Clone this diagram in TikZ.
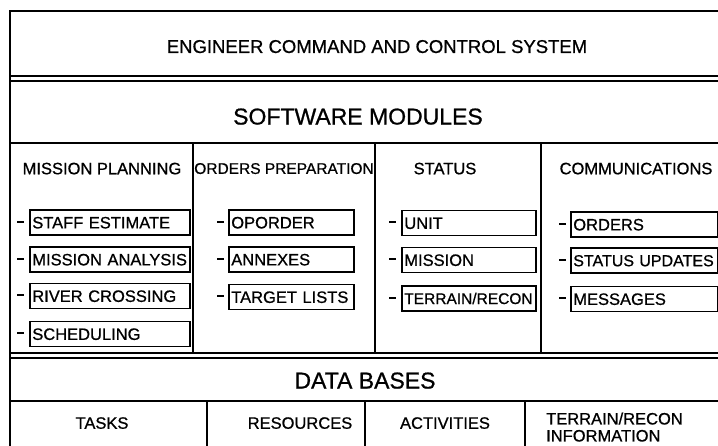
\documentclass[tikz,border=0pt]{standalone}
\usepackage{fontspec}
\setmainfont{Liberation Sans}[FakeBold=0.8]
\newcommand{\fs}[1]{\fontsize{#1}{#1}\selectfont}
\begin{document}
\begin{tikzpicture}[x=1pt,y=-1pt,
  rule/.style={line width=1.8pt},
  dbl/.style={line width=1.4pt},
  lbl/.style={inner sep=0pt, text depth=0pt, font=\fs{16.5}},
  dashmark/.style={fill=black, inner sep=0pt, minimum width=6.5pt, minimum height=2pt},
  item/.style={draw, line width=1.6pt, anchor=west, minimum height=25pt,
    inner xsep=2.5pt, inner ysep=0pt, text depth=0pt, text height=11.8pt,
    align=left, font=\fs{16.5}},
  mp/.style={item, text width=155pt},
  op/.style={item, text width=120pt},
  st/.style={item, text width=129pt},
  co/.style={item, text width=142pt}]
\useasboundingbox (0,0) rectangle (718,446);

% outer frame and section rules
\draw[rule] (10,446) -- (10,11) -- (718,11);
\draw[dbl] (10,76) -- (718,76);
\draw[dbl] (10,81) -- (718,81);
\draw[rule] (10,143) -- (718,143);
\draw[dbl] (10,353) -- (718,353);
\draw[dbl] (10,358) -- (718,358);
\draw[rule] (10,401) -- (718,401);

% module column dividers
\draw[rule] (193,143) -- (193,353);
\draw[rule] (375,143) -- (375,353);
\draw[rule] (541,143) -- (541,353);

% data base column dividers
\draw[rule] (207,401) -- (207,446);
\draw[rule] (365,401) -- (365,446);
\draw[rule] (525,401) -- (525,446);

% headings
\node[lbl, font=\fs{18.5}] (title) at (377,46.5) {ENGINEER COMMAND AND CONTROL SYSTEM};
\node[lbl, font=\fs{23}] (modules) at (358,116.5) {SOFTWARE MODULES};
\node[lbl] (hmp) at (102,168.5) {MISSION PLANNING};
\node[lbl, font=\fs{15.5}] (hop) at (284,168.5) {ORDERS PREPARATION};
\node[lbl] (hst) at (445,168.5) {STATUS};
\node[lbl] (hco) at (636,168.5) {COMMUNICATIONS};

% mission planning
\node[dashmark] (d1) at (20.5,222) {};
\node[mp] (m1) at (29,222.5) {STAFF ESTIMATE};
\node[dashmark] (d2) at (20.5,259) {};
\node[mp] (m2) at (29,259.5) {MISSION ANALYSIS};
\node[dashmark] (d3) at (20.5,295.5) {};
\node[mp] (m3) at (29,296) {RIVER CROSSING};
\node[dashmark] (d4) at (20.5,333.5) {};
\node[mp] (m4) at (29,334) {SCHEDULING};

% orders preparation
\node[dashmark] (d5) at (220.5,222) {};
\node[op] (o1) at (228,222.5) {OPORDER};
\node[dashmark] (d6) at (220.5,259) {};
\node[op] (o2) at (228,259.5) {ANNEXES};
\node[dashmark] (d7) at (220.5,296.5) {};
\node[op] (o3) at (228,297) {TARGET LISTS};

% status
\node[dashmark] (d8) at (392.5,222.5) {};
\node[st] (s1) at (401,223) {UNIT};
\node[dashmark] (d9) at (392.5,259.5) {};
\node[st] (s2) at (401,260) {MISSION};
\node[dashmark] (d10) at (392.5,298) {};
\node[st, font=\fs{15.5}, text height=11.1pt] (s3) at (401,298.5) {TERRAIN/RECON};

% communications
\node[dashmark] (d11) at (562.5,224) {};
\node[co] (c1) at (570,224.5) {ORDERS};
\node[dashmark] (d12) at (562.5,260) {};
\node[co, font=\fs{16}, text height=11.5pt] (c2) at (570,260.5) {STATUS UPDATES};
\node[dashmark] (d13) at (562.5,298.5) {};
\node[co] (c3) at (570,299) {MESSAGES};

% data bases
\node[lbl, font=\fs{23}] (db) at (365,380.5) {DATA BASES};
\node[lbl] (tasks) at (102,423) {TASKS};
\node[lbl] (res) at (300,423) {RESOURCES};
\node[lbl] (act) at (445,423) {ACTIVITIES};
\node[lbl, anchor=west, align=left, font=\fontsize{16.5}{17}\selectfont] (terr) at (546,427)
  {TERRAIN/RECON\\INFORMATION};
\end{tikzpicture}
\end{document}
